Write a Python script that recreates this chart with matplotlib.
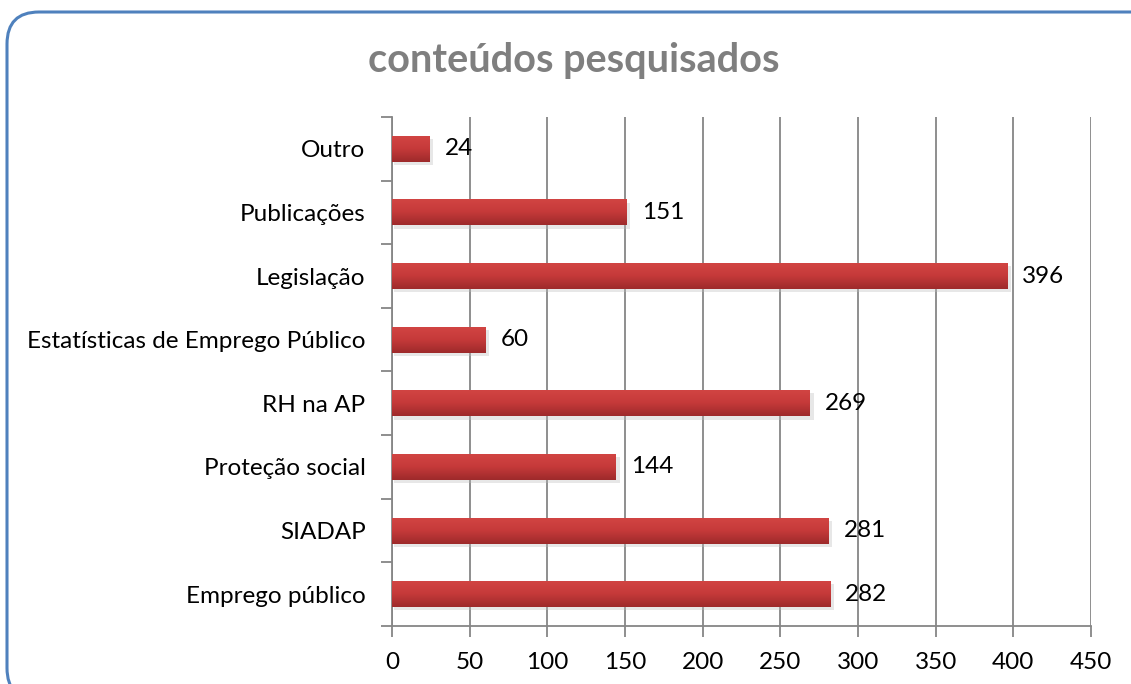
import matplotlib.pyplot as plt
import numpy as np
from matplotlib.patches import FancyBboxPatch
from matplotlib.colors import LinearSegmentedColormap

categories = ["Emprego público", "SIADAP", "Proteção social", "RH na AP",
              "Estatísticas de Emprego Público", "Legislação", "Publicações", "Outro"]
values = [282, 281, 144, 269, 60, 396, 151, 24]
xticks = [0, 50, 100, 150, 200, 250, 300, 350, 400, 450]

plt.rcParams['font.family'] = ['Lato', 'DejaVu Sans']

W, H = 1131, 684
fig = plt.figure(figsize=(W / 100, H / 100), dpi=100)

# rounded frame around the chart (runs off the right and bottom edges)
frame = FancyBboxPatch((7 / W, -16 / H), 1160 / W, 688 / H, transform=fig.transFigure,
                       boxstyle="round,pad=0,rounding_size=%f" % (32 / W),
                       mutation_aspect=W / H,
                       fill=False, edgecolor="#4F81BD", linewidth=2.2)
fig.patches.append(frame)

ax = fig.add_axes([0.3466, 0.0848, 0.618, 0.7442])
y = np.arange(len(categories))
bar_h = 0.41

# soft shadow
ax.barh(y - 0.05, [v + 1.5 for v in values], height=bar_h, left=1, color="#bbbbbb",
        alpha=0.35, zorder=2, linewidth=0)
bars = ax.barh(y, values, height=bar_h, color="#C0393B", zorder=3, linewidth=0)

# vertical gradient on each bar
grad = np.linspace(0, 1, 64).reshape(-1, 1)
cmap = LinearSegmentedColormap.from_list("redgrad", ["#9E2A2B", "#C63A3A", "#D24543"])
for b in bars:
    x0, y0 = b.get_x(), b.get_y()
    w, h = b.get_width(), b.get_height()
    im = ax.imshow(grad, extent=[x0, x0 + w, y0, y0 + h], origin="lower", cmap=cmap,
                   aspect="auto", zorder=4)
    im.set_clip_path(b)

for yi, v in zip(y, values):
    ax.annotate(str(v), (v, yi), xytext=(11, 0), textcoords="offset points",
                va="center", ha="left", fontsize=17.5, color="black", zorder=5)

ax.set_xlim(0, 450)
ax.set_ylim(-0.5, len(categories) - 0.5)
ax.set_xticks(xticks)
ax.set_xticklabels([str(t) for t in xticks], fontsize=17.5)
ax.set_yticks(y)
ax.set_yticklabels(categories, fontsize=17.5)
ax.tick_params(axis="y", length=0, pad=19)
ax.set_yticks(np.arange(-0.5, len(categories)), minor=True)
ax.tick_params(axis="y", which="minor", length=8, color="#868686", width=1.3)
ax.tick_params(axis="x", length=8, color="#868686", width=1.3, pad=11)

ax.grid(axis="x", color="#868686", linewidth=1.3, zorder=0)
ax.set_axisbelow(True)
for s in ["top", "right"]:
    ax.spines[s].set_visible(False)
for s in ["left", "bottom"]:
    ax.spines[s].set_color("#868686")
    ax.spines[s].set_linewidth(1.3)

fig.text(0.507, 0.912, "conteúdos pesquisados", ha="center", va="center",
         fontsize=28.5, fontweight="bold", color="#7F7F7F")

fig.savefig("out.png", dpi=100)
